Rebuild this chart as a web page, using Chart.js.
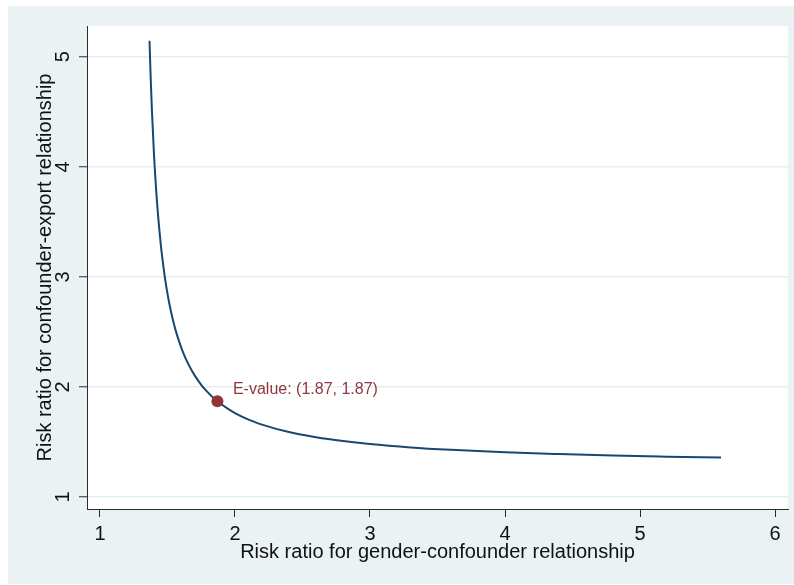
<!DOCTYPE html>
<html>
<head>
<meta charset="utf-8">
<script src="https://cdn.jsdelivr.net/npm/chart.js@4"></script>
<style>
  html, body { margin: 0; padding: 0; background: #ffffff; }
  canvas { display: block; }
</style>
</head>
<body>
<canvas id="myChart" width="794" height="585"></canvas>
<script>
// E-value curve, values
const curveX = [1.367, 1.375, 1.385, 1.40, 1.42, 1.43, 1.45, 1.46, 1.48, 1.50, 1.52, 1.54, 1.56, 1.60,
                1.62, 1.65, 1.70, 1.75, 1.78, 1.84, 1.87, 1.96, 2.0, 2.08, 2.14, 2.2, 2.4, 2.6, 2.8,
                3.0, 3.3, 3.6, 4.0, 4.4, 4.8, 5.2, 5.6];
const curveY = [5.146, 4.833, 4.507, 4.116, 3.722, 3.563, 3.300, 3.190, 3.002, 2.848, 2.719, 2.610, 2.516, 2.363,
                2.300, 2.218, 2.107, 2.019, 1.975, 1.900, 1.870, 1.791, 1.762, 1.714, 1.684, 1.657, 1.589, 1.542, 1.507,
                1.480, 1.450, 1.428, 1.405, 1.389, 1.376, 1.366, 1.357];

// the E-value point
const pointX = [1.87];
const pointY = [1.87];
const pointLabel = "E-value: (1.87, 1.87)";

// axis ticks and titles
const xTicks = [1, 2, 3, 4, 5, 6];
const yTicks = [1, 2, 3, 4, 5];
const xTitle = "Risk ratio for gender-confounder relationship";
const yTitle = "Risk ratio for confounder-export relationship";

const FONT = "'Liberation Sans', Arial, Helvetica, sans-serif";
const BG = "#eaf2f3";
const GRID = "#e4eff1";
const AXIS = "#2b2b2b";

// Stata style background: light outer region, white plot region
const backgroundPlugin = {
    id: "stataBackground",
    beforeDraw(chart) {
        const { ctx, chartArea } = chart;
        ctx.save();
        ctx.fillStyle = "#ffffff";
        ctx.fillRect(0, 0, chart.width, chart.height);
        ctx.fillStyle = BG;
        ctx.fillRect(8, 6, chart.width - 8, chart.height - 7);
        ctx.fillStyle = "#ffffff";
        ctx.fillRect(chartArea.left, chartArea.top,
            chartArea.right - chartArea.left, chartArea.bottom - chartArea.top);
        ctx.restore();
    }
};

// text next to the E-value marker
const pointLabelPlugin = {
    id: "pointLabel",
    afterDatasetsDraw(chart) {
        const meta = chart.getDatasetMeta(1);
        if (!meta || !meta.data.length) return;
        const pt = meta.data[0];
        const ctx = chart.ctx;
        ctx.save();
        ctx.font = "16px " + FONT;
        ctx.fillStyle = "#93363c";
        ctx.textAlign = "left";
        ctx.textBaseline = "alphabetic";
        ctx.fillText(pointLabel, pt.x + 15.5, pt.y - 7);
        ctx.restore();
    }
};

const ctx = document.getElementById("myChart").getContext("2d");

new Chart(ctx, {
    type: "scatter",
    data: {
        datasets: [{
            data: curveX.map((x, i) => ({ x: x, y: curveY[i] })),
            showLine: true,
            borderColor: "#1a476f",
            borderWidth: 2,
            pointRadius: 0,
            cubicInterpolationMode: "monotone",
            fill: false,
            order: 1
        }, {
            data: pointX.map((x, i) => ({ x: x, y: pointY[i] })),
            showLine: false,
            pointRadius: 6,
            pointBackgroundColor: "#90353b",
            pointBorderWidth: 0,
            order: 0
        }]
    },
    options: {
        responsive: false,
        animation: false,
        layout: { padding: { left: 8, top: 26, right: 5, bottom: 1 } },
        plugins: {
            legend: { display: false },
            tooltip: { enabled: false }
        },
        scales: {
            x: {
                type: "linear",
                min: 0.904,
                max: 6.096,
                afterBuildTicks: scale => { scale.ticks = xTicks.map(v => ({ value: v })); },
                afterFit: scale => { scale.height = 75; },
                grid: {
                    drawOnChartArea: false,
                    drawTicks: true,
                    tickLength: 8,
                    tickColor: AXIS,
                    tickWidth: 1
                },
                border: { display: true, color: AXIS, width: 1 },
                ticks: {
                    padding: 5,
                    color: "#111111",
                    font: { family: FONT, size: 20 },
                    maxRotation: 0,
                    minRotation: 0
                },
                title: {
                    display: true,
                    text: xTitle,
                    color: "#111111",
                    font: { family: FONT, size: 20 },
                    padding: { top: 0, bottom: 20 }
                }
            },
            y: {
                type: "linear",
                min: 0.89,
                max: 5.28,
                afterBuildTicks: scale => { scale.ticks = yTicks.map(v => ({ value: v })); },
                afterFit: scale => { scale.width = 79; },
                grid: {
                    color: GRID,
                    lineWidth: 1.5,
                    drawTicks: true,
                    tickLength: 8,
                    tickColor: AXIS,
                    tickWidth: 1
                },
                border: { display: true, color: AXIS, width: 1 },
                ticks: {
                    padding: 9.5,
                    color: "#111111",
                    crossAlign: "center",
                    minRotation: 90,
                    maxRotation: 90,
                    font: { family: FONT, size: 20 }
                },
                title: {
                    display: true,
                    text: yTitle,
                    color: "#111111",
                    font: { family: FONT, size: 20 },
                    padding: { top: 25, bottom: 0 }
                }
            }
        }
    },
    plugins: [backgroundPlugin, pointLabelPlugin]
});
</script>
</body>
</html>
